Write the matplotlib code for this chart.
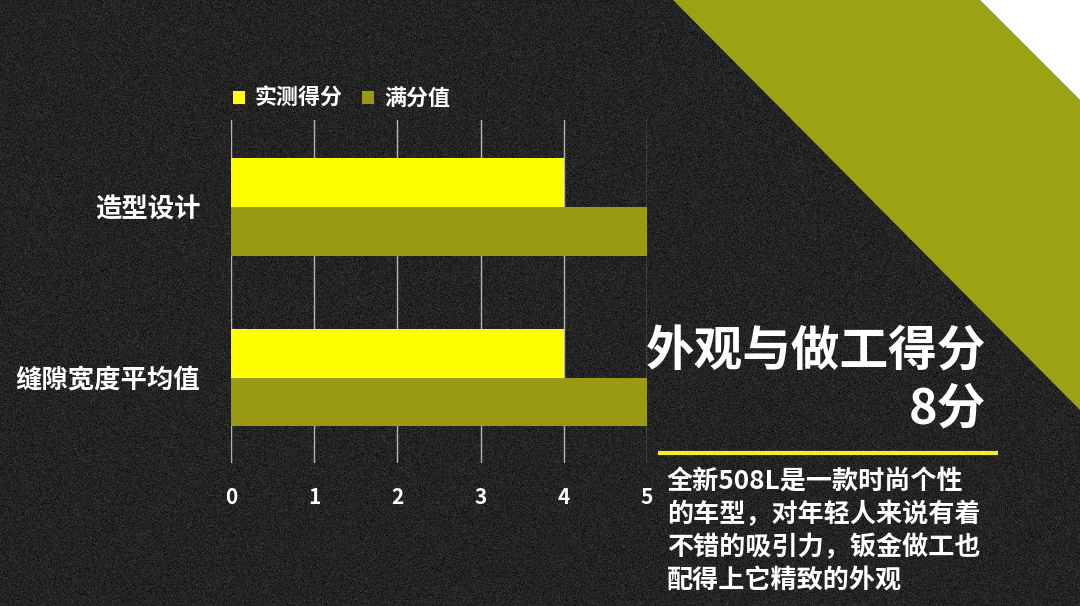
import numpy as np
import matplotlib
matplotlib.use("Agg")
import matplotlib.pyplot as plt
from matplotlib.patches import Polygon

plt.rcParams['font.family'] = ['Noto Sans CJK SC', 'DejaVu Sans']

# ---- data ----
categories = ["造型设计", "缝隙宽度平均值"]
actual_scores = [4, 4]
full_scores = [5, 5]
series_names = ["实测得分", "满分值"]
xticks = [0, 1, 2, 3, 4, 5]
title_lines = ["外观与做工得分", "8分"]
desc_lines = ["全新508L是一款时尚个性", "的车型，对年轻人来说有着",
              "不错的吸引力，钣金做工也", "配得上它精致的外观"]

BG = "#232323"
YELLOW = "#ffff00"
OLIVE_BAR = "#9a9a12"
OLIVE_BAND = "#9ba315"

W, H = 1080, 606
fig = plt.figure(figsize=(W / 100, H / 100), dpi=100)
fig.patch.set_facecolor(BG)

# background layer (pixel coordinates)
bg = fig.add_axes([0, 0, 1, 1], zorder=0)
bg.set_xlim(0, W)
bg.set_ylim(H, 0)
bg.axis("off")
rng = np.random.default_rng(7)
noise = 0.14 + rng.normal(0, 0.035, size=(H, W))
bg.imshow(np.clip(noise, 0, 1), cmap="gray", vmin=0, vmax=1,
          extent=(0, W, H, 0), interpolation="nearest", aspect="auto")
bg.add_patch(Polygon([(673, 0), (980, 0), (1080, 100), (1080, 410)],
                     closed=True, facecolor=OLIVE_BAND, edgecolor="none"))
bg.add_patch(Polygon([(980, 0), (1080, 0), (1080, 100)],
                     closed=True, facecolor="white", edgecolor="none"))
# yellow divider
bg.plot([658, 998], [453, 453], color="#f0ef2a", lw=3, solid_capstyle="butt")

WEIGHT = "heavy"

# ---- chart ----
ax = fig.add_axes([231 / W, 1 - 463 / H, 416 / W, 343 / H], zorder=2)
ax.patch.set_alpha(0)
y = np.arange(len(categories))
h = 0.285
ax.barh(y - h / 2, actual_scores, height=h, color=YELLOW, label=series_names[0], zorder=3)
ax.barh(y + h / 2, full_scores, height=h, color=OLIVE_BAR, label=series_names[1], zorder=3)
ax.set_ylim(1.5, -0.51)
ax.set_xlim(0, 5)
ax.set_xticks(xticks)
ax.set_xticklabels([str(t) for t in xticks])
ax.set_yticks(y)
ax.set_yticklabels(categories)
for s in ax.spines.values():
    s.set_visible(False)
ax.grid(axis="x", color="#b5b5b5", lw=1, zorder=1)
ax.tick_params(axis="x", length=0, pad=17, labelsize=15, labelcolor="white")
ax.tick_params(axis="y", length=0, pad=22, labelsize=19, labelcolor="white")
for lbl in ax.get_xticklabels() + ax.get_yticklabels():
    lbl.set_fontweight(WEIGHT)

leg = ax.legend(loc="lower left", bbox_to_anchor=(-0.02, 1.0), ncol=2, frameon=False,
                handlelength=0.55, handleheight=0.55, handletextpad=0.45, columnspacing=0.9,
                prop={"size": 15.8, "weight": WEIGHT}, borderaxespad=0.05)
for t in leg.get_texts():
    t.set_color("white")

# ---- right text ----
fig.text(986 / W, 1 - 352 / H, title_lines[0], ha="right", va="center",
         color="white", fontsize=35, fontweight=WEIGHT, zorder=5)
fig.text(986 / W, 1 - 409 / H, title_lines[1], ha="right", va="center",
         color="white", fontsize=35, fontweight=WEIGHT, zorder=5)
for i, line in enumerate(desc_lines):
    fig.text(667 / W, 1 - (481 + 33.5 * i) / H, line, ha="left", va="center",
             color="white", fontsize=18.8, fontweight=WEIGHT, zorder=5)

fig.savefig("out.png", dpi=100, facecolor=BG)
